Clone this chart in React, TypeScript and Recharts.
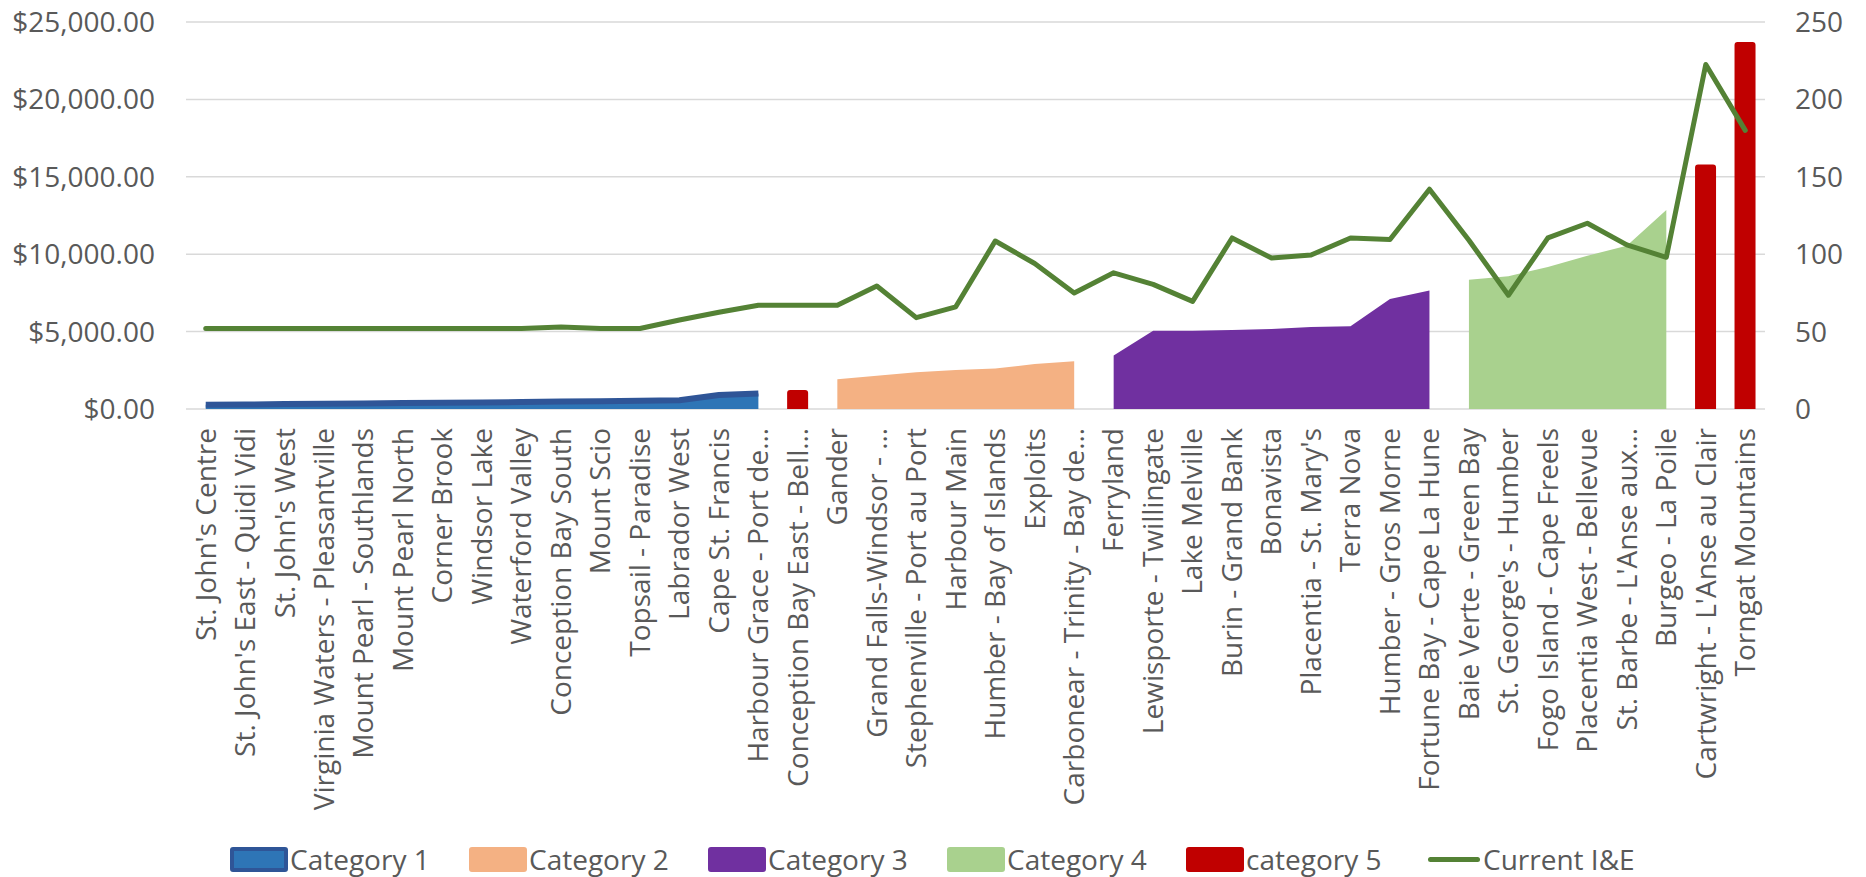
import React from 'react';
import { ComposedChart, Area, Bar, Line, XAxis, YAxis, CartesianGrid } from 'recharts';

const districts = [
  "St. John's Centre", "St. John's East - Quidi Vidi", "St. John's West",
  'Virginia Waters - Pleasantville', 'Mount Pearl - Southlands', 'Mount Pearl North',
  'Corner Brook', 'Windsor Lake', 'Waterford Valley', 'Conception Bay South',
  'Mount Scio', 'Topsail - Paradise', 'Labrador West', 'Cape St. Francis',
  'Harbour Grace - Port de…', 'Conception Bay East - Bell…', 'Gander',
  'Grand Falls-Windsor - …', 'Stephenville - Port au Port', 'Harbour Main',
  'Humber - Bay of Islands', 'Exploits', 'Carbonear - Trinity - Bay de…',
  'Ferryland', 'Lewisporte - Twillingate', 'Lake Melville', 'Burin - Grand Bank',
  'Bonavista', "Placentia - St. Mary's", 'Terra Nova', 'Humber - Gros Morne',
  'Fortune Bay - Cape La Hune', 'Baie Verte - Green Bay', "St. George's - Humber",
  'Fogo Island - Cape Freels', 'Placentia West - Bellevue', "St. Barbe - L'Anse aux…",
  'Burgeo - La Poile', "Cartwright - L'Anse au Clair", 'Torngat Mountains',
];

const _ = null;

// dollar values, left axis
const category1 = [270, 290, 320, 340, 360, 380, 400, 420, 450, 480, 500, 530, 560, 900, 1000,
  _, _, _, _, _, _, _, _, _, _, _, _, _, _, _, _, _, _, _, _, _, _, _, _, _];
const category2 = [_, _, _, _, _, _, _, _, _, _, _, _, _, _, _, _,
  1920, 2150, 2380, 2520, 2620, 2900, 3080,
  _, _, _, _, _, _, _, _, _, _, _, _, _, _, _, _, _];
const category3 = [_, _, _, _, _, _, _, _, _, _, _, _, _, _, _, _, _, _, _, _, _, _, _,
  3450, 5050, 5060, 5100, 5170, 5300, 5350, 7100, 7650,
  _, _, _, _, _, _, _, _];
const category4 = [_, _, _, _, _, _, _, _, _, _, _, _, _, _, _, _, _, _, _, _, _, _, _, _, _, _, _, _, _, _, _, _,
  8350, 8580, 9180, 9900, 10550, 12850, _, _];
const category5 = [_, _, _, _, _, _, _, _, _, _, _, _, _, _, _, 1230,
  _, _, _, _, _, _, _, _, _, _, _, _, _, _, _, _, _, _, _, _, _, _, 15800, 23700];

// right axis
const currentIE = [52, 52, 52, 52, 52, 52, 52, 52, 52, 53, 52, 52, 57.5, 62.5, 67, 67, 67, 79.5, 59, 66,
  108.5, 94, 75, 88, 80.5, 69.5, 110.5, 97.5, 99.5, 110.5, 109.5, 142, 109, 73.5, 110.5, 120, 106, 98, 222.5, 180];

const leftTicks = [0, 5000, 10000, 15000, 20000, 25000];
const rightTicks = [0, 50, 100, 150, 200, 250];

const data = districts.map((name, i) => ({
  name,
  c1: category1[i],
  c2: category2[i],
  c3: category3[i],
  c4: category4[i],
  c5: category5[i],
  ie: currentIE[i],
}));

const FONT = '"Open Sans", sans-serif';
const TEXT = '#595959';

const fmtDollar = (v: number) =>
  '$' + v.toLocaleString('en-US', { minimumFractionDigits: 2, maximumFractionDigits: 2 });

const XTick = ({ x, y, payload }: any) => (
  <g transform={`translate(${x},${y})`}>
    <text transform="rotate(-90)" textAnchor="end" dy="0.35em" fontSize={28} fill={TEXT} fontFamily={FONT}>
      {payload.value}
    </text>
  </g>
);

const legendItems = [
  { label: 'Category 1', kind: 'box', fill: '#2E75B6', border: '#2F5597' },
  { label: 'Category 2', kind: 'box', fill: '#F4B183', border: '#F4B183' },
  { label: 'Category 3', kind: 'box', fill: '#7030A0', border: '#7030A0' },
  { label: 'Category 4', kind: 'box', fill: '#A9D18E', border: '#A9D18E' },
  { label: 'category 5', kind: 'box', fill: '#C00000', border: '#C00000' },
  { label: 'Current I&E', kind: 'line', fill: '#548235', border: '#548235' },
];

export default function App() {
  return (
    <div style={{ position: 'relative', width: 1866, height: 877, background: '#fff' }}>
      <style>{`body{margin:0;}`}</style>
      <ComposedChart width={1866} height={877} data={data} margin={{ top: 22, right: 0, left: 0, bottom: 0 }}>
        <CartesianGrid yAxisId="left" vertical={false} stroke="#D9D9D9" strokeWidth={1.5} />
        <XAxis
          dataKey="name"
          interval={0}
          height={468}
          tickLine={false}
          axisLine={false}
          tickMargin={13}
          tick={<XTick />}
        />
        <YAxis
          yAxisId="left"
          width={186}
          domain={[0, 25000]}
          ticks={leftTicks}
          tickFormatter={fmtDollar}
          tickLine={false}
          axisLine={false}
          tickMargin={25}
          tick={{ fontSize: 28, fill: TEXT, fontFamily: FONT }}
        />
        <YAxis
          yAxisId="right"
          orientation="right"
          width={101}
          domain={[0, 250]}
          ticks={rightTicks}
          tickLine={false}
          axisLine={false}
          tickMargin={24}
          tick={{ fontSize: 28, fill: TEXT, fontFamily: FONT, textAnchor: 'start' }}
        />
        <Area yAxisId="left" type="linear" dataKey="c1" fill="#2E75B6" fillOpacity={1} stroke="#2F5597" strokeWidth={6} strokeLinejoin="round" dot={false} activeDot={false} isAnimationActive={false} />
        <Area yAxisId="left" type="linear" dataKey="c2" fill="#F4B183" fillOpacity={1} stroke="none" dot={false} activeDot={false} isAnimationActive={false} />
        <Area yAxisId="left" type="linear" dataKey="c3" fill="#7030A0" fillOpacity={1} stroke="none" dot={false} activeDot={false} isAnimationActive={false} />
        <Area yAxisId="left" type="linear" dataKey="c4" fill="#A9D18E" fillOpacity={1} stroke="none" dot={false} activeDot={false} isAnimationActive={false} />
        <Bar yAxisId="left" dataKey="c5" fill="#C00000" barSize={21} radius={[3, 3, 0, 0]} isAnimationActive={false} />
        <Line yAxisId="right" type="linear" dataKey="ie" stroke="#548235" strokeWidth={5} strokeLinejoin="round" strokeLinecap="round" dot={false} activeDot={false} isAnimationActive={false} />
      </ComposedChart>
      <div style={{ position: 'absolute', top: 844, left: 0, width: 1866, height: 30, fontFamily: FONT, fontSize: 28, color: TEXT }}>
        {legendItems.map((it, i) => (
          <div key={it.label} style={{ position: 'absolute', left: 230 + i * 239, top: 0, display: 'flex', alignItems: 'center', height: 30, whiteSpace: 'nowrap' }}>
            {it.kind === 'box' ? (
              <div style={{ width: 58, height: 25, boxSizing: 'border-box', background: it.fill, border: `4px solid ${it.border}`, borderRadius: 3, marginRight: 2 }} />
            ) : (
              <div style={{ width: 52, height: 5, background: it.fill, borderRadius: 3, margin: '0 3px 0 3px' }} />
            )}
            <span style={{ lineHeight: '30px' }}>{it.label}</span>
          </div>
        ))}
      </div>
    </div>
  );
}
